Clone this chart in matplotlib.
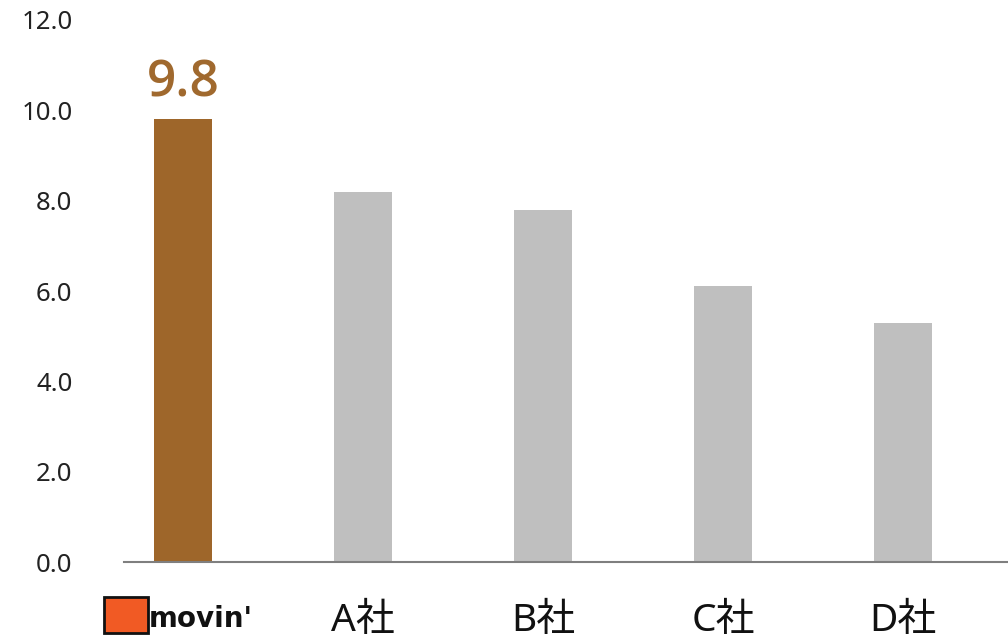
import matplotlib.pyplot as plt
from matplotlib.patches import Rectangle

plt.rcParams['font.family'] = ['Noto Sans', 'Noto Sans CJK JP', 'DejaVu Sans']

# data
companies = ["movin'", 'A社', 'B社', 'C社', 'D社']
scores = [9.8, 8.2, 7.8, 6.1, 5.3]
highlight = "9.8"
yticks = [0, 2, 4, 6, 8, 10, 12]

colors = ['#9E662A'] + ['#BFBFBF'] * 4

fig = plt.figure(figsize=(10.08, 6.41), dpi=100)
ax = fig.add_axes([0.123, 0.1232, 0.877, 0.8456])

x = list(range(len(companies)))
ax.bar(x, scores, width=0.32, color=colors)
ax.set_xlim(-0.328, 4.583)
ax.set_ylim(0, 12)

ax.set_yticks(yticks)
ax.set_yticklabels([f'{v:.1f}' for v in yticks], fontsize=18.5, color='#222222')
ax.tick_params(axis='y', length=0, pad=37)

ax.set_xticks(x)
ax.set_xticklabels([''] + companies[1:], fontsize=28, color='#111111')
ax.tick_params(axis='x', length=0, pad=29)

for s in ['top', 'right', 'left']:
    ax.spines[s].set_visible(False)
ax.spines['bottom'].set_color('#7F7F7F')
ax.spines['bottom'].set_linewidth(1.5)

# value label on the first bar
ax.text(x[0], scores[0] + 0.25, highlight, ha='center', va='bottom',
        fontsize=37, fontweight='semibold', color='#A0692E',
        family=['Open Sans', 'DejaVu Sans'])

# movin' logo stand-in
fig.patches.append(Rectangle((104 / 1008, 1 - 633 / 641), 44 / 1008, 36 / 641,
                             transform=fig.transFigure, facecolor='#F15A24',
                             edgecolor='#111111', linewidth=2))
fig.text(149 / 1008, 1 - 619 / 641, companies[0], ha='left', va='center',
         fontsize=20, fontweight='bold', color='#111111', family='DejaVu Sans')

fig.savefig('out.png', dpi=100)
